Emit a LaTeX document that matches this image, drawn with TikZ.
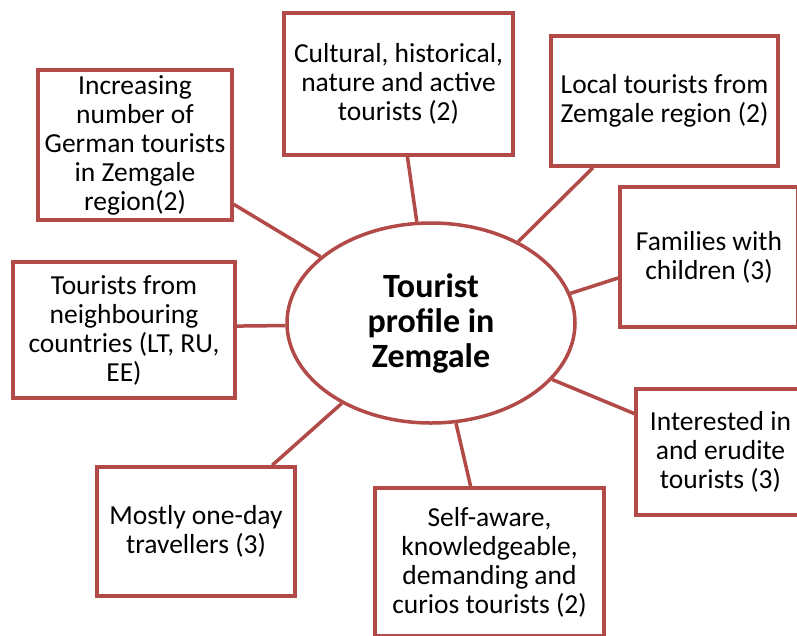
\documentclass[tikz,border=0pt]{standalone}
\usepackage{fontspec}
\setmainfont{Carlito}
\usetikzlibrary{shapes.geometric}
\definecolor{redline}{RGB}{178,74,72}
\begin{document}
\begin{tikzpicture}[x=1pt,y=-1pt,
  box/.style={draw=redline, line width=3.5pt, rectangle, fill=white, inner sep=0pt, align=center,
    font=\fontsize{27.5}{29}\selectfont},
  hub/.style={draw=redline, line width=3.5pt, ellipse, fill=white, inner sep=0pt, align=center,
    minimum width=288pt, minimum height=200pt, font=\fontsize{34}{35}\selectfont\bfseries},
  link/.style={draw=redline, line width=3.5pt}]
\useasboundingbox (0,0) rectangle (797,635);
\clip (0,0) rectangle (797,635);
\fill[white] (0,0) rectangle (797,635);

\node[hub] (C) at (431,323) {Tourist\\profile in\\Zemgale};

\node[box, minimum width=194pt, minimum height=150pt] (A) at (135,145)
  {Increasing\\number of\\German tourists\\in Zemgale\\region(2)};
\node[box, minimum width=229pt, minimum height=142pt] (B) at (398.5,84)
  {Cultural, historical,\\nature and active\\tourists (2)};
\node[box, minimum width=227pt, minimum height=130pt] (L) at (664.5,101)
  {Local tourists from\\Zemgale region (2)};
\node[box, minimum width=178pt, minimum height=140pt] (D) at (709,257)
  {Families with\\children (3)};
\node[box, minimum width=222pt, minimum height=136pt] (E) at (124,330)
  {Tourists from\\neighbouring\\countries (LT, RU,\\EE)};
\node[box, minimum width=198pt, minimum height=129pt] (F) at (196,531.5)
  {Mostly one-day\\travellers (3)};
\node[box, minimum width=229pt, minimum height=148pt] (G) at (489.5,562)
  {Self-aware,\\knowledgeable,\\demanding and\\curios tourists (2)};
\node[box, minimum width=169pt, minimum height=126pt] (H) at (720.5,452)
  {Interested in\\and erudite\\tourists (3)};

\draw[link] (A.-31.5) -- (C.149.2);
\draw[link] (B.-83.2) -- (C.98);
\draw[link] (L.223.9) -- (C.43);
\draw[link] (D.193.3) -- (C.12.7);
\draw[link] (E.2.6) -- (C.181);
\draw[link] (F.41) -- (C.222.7);
\draw[link] (G.104) -- (C.284.6);
\draw[link] (H.156.4) -- (C.335.7);
\end{tikzpicture}
\end{document}
